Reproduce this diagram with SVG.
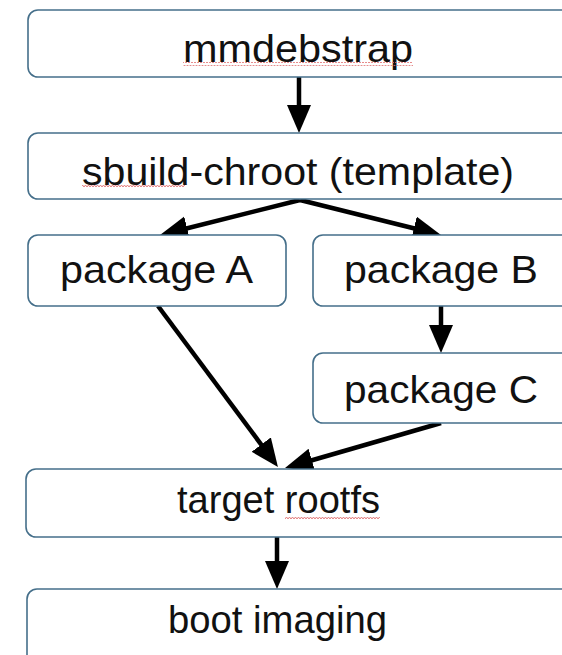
<svg xmlns="http://www.w3.org/2000/svg" width="562" height="655" viewBox="0 0 562 655">
<style>
.box{fill:#ffffff;stroke:#456f8a;stroke-width:1.6}
.lbl{font-family:"Liberation Sans",Arial,sans-serif;font-size:39px;fill:#111111}
.edge{fill:none;stroke:#000000;stroke-width:4.5}
.spell{fill:url(#wave)}
</style>
<defs>
<marker id="ah" markerUnits="userSpaceOnUse" markerWidth="30" markerHeight="26" refX="8" refY="12" orient="auto">
<path d="M0,0 L28,12 L0,24 z" fill="#000000"/>
</marker>
<pattern id="wave" patternUnits="userSpaceOnUse" width="6" height="4">
<polyline points="0,3 1.5,1 3,3 4.5,1 6,3" fill="none" stroke="#e07070" stroke-width="0.9"/>
</pattern>
</defs>
<rect width="562" height="655" fill="#ffffff"/>
<g id="connectors">
<path class="edge" marker-end="url(#ah)" d="M299,77 L299,113"/>
<path class="edge" marker-end="url(#ah)" d="M300,200 L179.4,230.2"/>
<path class="edge" marker-end="url(#ah)" d="M300,200 L421.6,230.2"/>
<path class="edge" marker-end="url(#ah)" d="M441,306 L441,333"/>
<path class="edge" marker-end="url(#ah)" d="M158,306 L266,451"/>
<path class="edge" marker-end="url(#ah)" d="M441,423 L304.2,462.5"/>
<path class="edge" marker-end="url(#ah)" d="M277,537 L277,569"/>
</g>
<g id="mmdebstrap">
<rect class="box" x="28" y="10" width="560" height="67" rx="10"/>
<text class="lbl" x="183" y="62" textLength="230" lengthAdjust="spacingAndGlyphs">mmdebstrap</text>
<rect class="spell" x="183" y="62" width="230" height="4"/>
</g>
<g id="sbuild-chroot">
<rect class="box" x="28" y="133" width="560" height="66" rx="10"/>
<text class="lbl" x="82" y="185" textLength="432" lengthAdjust="spacingAndGlyphs">sbuild-chroot (template)</text>
<rect class="spell" x="82" y="185" width="103" height="4"/>
</g>
<g id="package-a">
<rect class="box" x="28" y="235" width="258" height="71" rx="10"/>
<text class="lbl" x="60" y="283" textLength="193" lengthAdjust="spacingAndGlyphs">package A</text>
</g>
<g id="package-b">
<rect class="box" x="313" y="235" width="270" height="71" rx="10"/>
<text class="lbl" x="344" y="283" textLength="194" lengthAdjust="spacingAndGlyphs">package B</text>
</g>
<g id="package-c">
<rect class="box" x="313" y="353" width="270" height="70" rx="10"/>
<text class="lbl" x="344" y="403" textLength="194" lengthAdjust="spacingAndGlyphs">package C</text>
</g>
<g id="target-rootfs">
<rect class="box" x="26" y="469" width="562" height="68" rx="10"/>
<text class="lbl" x="177" y="513" textLength="203" lengthAdjust="spacingAndGlyphs">target rootfs</text>
<rect class="spell" x="285" y="516" width="95" height="4"/>
</g>
<g id="boot-imaging">
<rect class="box" x="27" y="589" width="562" height="100" rx="10"/>
<text class="lbl" x="168" y="633" textLength="219" lengthAdjust="spacingAndGlyphs">boot imaging</text>
</g>
</svg>
